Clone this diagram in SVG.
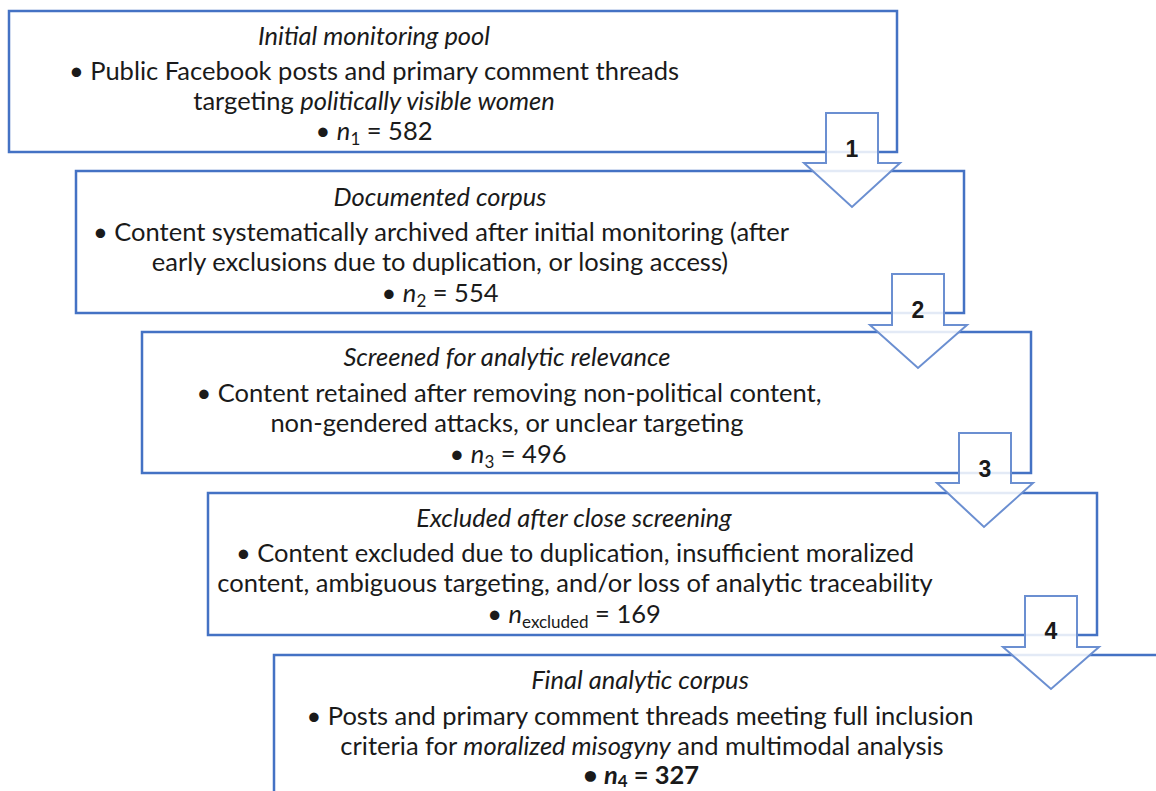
<svg xmlns="http://www.w3.org/2000/svg" width="1156" height="791" viewBox="0 0 1156 791">
<style>
.box{fill:#fff;stroke:#4472C4;stroke-width:2.5}
.arr{fill:#fff;fill-opacity:0.85;stroke:#6B8FD1;stroke-width:2}
text{font-family:Lato,"Noto Sans","Liberation Sans",sans-serif;font-size:25.5px;fill:#1a1a1a;text-anchor:middle}
.t{font-style:italic}
.i{font-style:italic}
.num{font-family:"Liberation Sans",Arial,sans-serif;font-weight:bold;font-size:23px}
.b{font-weight:bold}
.s{font-size:17px}
</style>
<g id="node1">
<rect class="box" x="9" y="11" width="888" height="141"/>
<text class="t" x="374" y="45">Initial monitoring pool</text>
<text x="374" y="80">• Public Facebook posts and primary comment threads</text>
<text x="374" y="110">targeting <tspan class="i">politically visible women</tspan></text>
<text x="374" y="140">• <tspan class="i">n</tspan><tspan class="s" dy="5">1</tspan><tspan dy="-5"> = 582</tspan></text>
</g>
<g id="node2">
<rect class="box" x="76" y="171" width="888" height="142"/>
<text class="t" x="440" y="206">Documented corpus</text>
<text x="441" y="241">• Content systematically archived after initial monitoring (after</text>
<text x="440" y="271">early exclusions due to duplication, or losing access)</text>
<text x="440" y="302">• <tspan class="i">n</tspan><tspan class="s" dy="5">2</tspan><tspan dy="-5"> = 554</tspan></text>
</g>
<g id="node3">
<rect class="box" x="142" y="332" width="889" height="141"/>
<text class="t" x="507" y="366">Screened for analytic relevance</text>
<text x="509" y="402">• Content retained after removing non-political content,</text>
<text x="507" y="432">non-gendered attacks, or unclear targeting</text>
<text x="508" y="463">• <tspan class="i">n</tspan><tspan class="s" dy="5">3</tspan><tspan dy="-5"> = 496</tspan></text>
</g>
<g id="node4">
<rect class="box" x="208" y="493" width="889" height="142"/>
<text class="t" x="574" y="527">Excluded after close screening</text>
<text x="575" y="562">• Content excluded due to duplication, insufficient moralized</text>
<text x="575" y="592">content, ambiguous targeting, and/or loss of analytic traceability</text>
<text x="574" y="623">• <tspan class="i">n</tspan><tspan class="s" dy="5">excluded</tspan><tspan dy="-5"> = 169</tspan></text>
</g>
<g id="node5">
<rect class="box" x="274" y="655" width="900" height="150"/>
<text class="t" x="640" y="689">Final analytic corpus</text>
<text x="640" y="725">• Posts and primary comment threads meeting full inclusion</text>
<text x="642" y="755">criteria for <tspan class="i">moralized misogyny</tspan> and multimodal analysis</text>
<text x="641" y="784" class="b">• <tspan class="i">n</tspan><tspan class="s" dy="3">4</tspan><tspan dy="-3"> = 327</tspan></text>
</g>
<g id="connectors">
<g id="arrow1">
<polygon class="arr" points="826,113 878,113 878,163 900,163 852,207 804,163 826,163"/>
<text class="num" x="852" y="157">1</text>
</g>
<g id="arrow2">
<polygon class="arr" points="892,274 944,274 944,325 967,325 918,368 870,325 892,325"/>
<text class="num" x="918" y="318">2</text>
</g>
<g id="arrow3">
<polygon class="arr" points="959,433 1011,433 1011,483 1033,483 984,527 937,483 959,483"/>
<text class="num" x="985" y="477">3</text>
</g>
<g id="arrow4">
<polygon class="arr" points="1025,596 1077,596 1077,647 1099,647 1051,689 1003,647 1025,647"/>
<text class="num" x="1051" y="639">4</text>
</g>
</g>
</svg>
